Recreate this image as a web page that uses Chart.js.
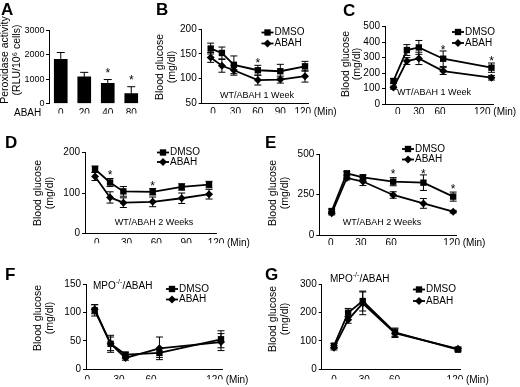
<!DOCTYPE html>
<html><head><meta charset="utf-8">
<script src="https://cdn.jsdelivr.net/npm/chart.js@4/dist/chart.umd.min.js"></script>
<style>
html,body{margin:0;padding:0;background:#fff;}
#wrap{position:relative;width:520px;height:387px;overflow:hidden;background:#fff;}
canvas{position:absolute;left:0;top:0;}
</style></head><body>
<div id="wrap">
<canvas id="cA" width="520" height="387"></canvas>
<canvas id="cB" width="520" height="387"></canvas>
<canvas id="cC" width="520" height="387"></canvas>
<canvas id="cD" width="520" height="387"></canvas>
<canvas id="cE" width="520" height="387"></canvas>
<canvas id="cF" width="520" height="387"></canvas>
<canvas id="cG" width="520" height="387"></canvas>
</div>
<script>
// ---------------- DATA ----------------
// Panel A: peroxidase activity vs ABAH dose
const aCategories = ['0', '20', '40', '80'];
const aValues = [1820, 1095, 825, 405];
const aErrors = [275, 185, 160, 285];
const aStars = [null, null, 1390, 1095];
const aYTicks = [0, 1000, 2000, 3000];

// Panel B: WT/ABAH 1 Week (insulin tolerance)
const bTime = [-3, 12, 28, 60, 90, 123];
const bDmso = [161, 152, 128, 117, 115, 125];
const bDmsoErr = [11, 12, 18, 10, 14, 10];
const bAbah = [143, 126, 117, 97, 98, 105];
const bAbahErr = [10, 13, 10, 10, 7, 12];
const bStars = [null, null, null, 138, null, null];
const bXTicks = [0, 30, 60, 90, 120];
const bYTicks = [50, 100, 150, 200];

// Panel C: WT/ABAH 1 Week (glucose tolerance)
const cTime = [-6, 13, 30, 64.5, 133];
const cDmso = [149, 349, 366, 293, 235];
const cDmsoErr = [15, 35, 45, 50, 30];
const cAbah = [106, 278, 295, 213, 170];
const cAbahErr = [10, 22, 40, 22, 15];
const cStars = [null, null, null, 370, 295];
const cXTicks = [0, 30, 60, 120];
const cYTicks = [0, 100, 200, 300, 400, 500];

// Panel D: WT/ABAH 2 Weeks (insulin tolerance)
const dTime = [-1.7, 13.4, 26.8, 56.3, 85.5, 113];
const dDmso = [159, 126, 104, 103, 115, 121];
const dDmsoErr = [8, 10, 12, 8, 8, 8];
const dAbah = [141, 89, 76, 78, 87, 97];
const dAbahErr = [10, 14, 12, 12, 13, 12];
const dStars = [null, 151, null, 126, null, null];
const dXTicks = [0, 30, 60, 90, 120];
const dYTicks = [0, 100, 200];

// Panel E: WT/ABAH 2 Weeks (glucose tolerance)
const eTime = [1, 16, 32, 62, 92, 121.5];
const eDmso = [148, 381, 356, 329, 323, 237];
const eDmsoErr = [12, 10, 15, 25, 48, 28];
const eAbah = [134, 352, 330, 247, 195, 144];
const eAbahErr = [10, 12, 25, 20, 30, 8];
const eStars = [null, null, null, 397, 397, 304];
const eXTicks = [0, 30, 60, 120];
const eYTicks = [0, 250, 500];

// Panel F: MPO-/-/ABAH (insulin tolerance)
const fTime = [7, 22, 36, 68, 126];
const fDmso = [104, 45, 26, 29, 53];
const fDmsoErr = [10, 15, 4, 8, 15];
const fAbah = [106, 45, 20, 37, 48];
const fAbahErr = [8, 12, 4, 20, 15];
const fXTicks = [0, 30, 60, 120];
const fYTicks = [0, 50, 100, 150];

// Panel G: MPO-/-/ABAH (glucose tolerance)
const gTime = [0, 14, 28.5, 60.5, 123];
const gDmso = [83, 199, 240, 130, 69];
const gDmsoErr = [8, 15, 35, 15, 5];
const gAbah = [76, 174, 232, 127, 72];
const gAbahErr = [8, 12, 40, 15, 6];
const gXTicks = [0, 30, 60, 120];
const gYTicks = [0, 100, 200, 300];

const seriesNames = ['DMSO', 'ABAH'];

// ---------------- DRAWING ----------------
const FF = '"Liberation Sans", Arial, Helvetica, sans-serif';
const INK = '#000';
const plain = v => String(v);

function drawMarker(ctx, style, x, y, r) {
  ctx.beginPath();
  if (style === 'rect') {
    const s = r * Math.SQRT1_2;
    ctx.rect(x - s, y - s, 2 * s, 2 * s);
  } else {
    ctx.moveTo(x - r, y); ctx.lineTo(x, y - r); ctx.lineTo(x + r, y); ctx.lineTo(x, y + r);
    ctx.closePath();
  }
  ctx.fill();
}

function yOf(v) { return (v !== null && typeof v === 'object') ? v.y : v; }

const deco = {
  id: 'deco',
  beforeDatasetsDraw(chart) {
    const ctx = chart.ctx, ys = chart.scales.y;
    ctx.save();
    ctx.strokeStyle = INK; ctx.lineWidth = 1;
    chart.data.datasets.forEach((ds, i) => {
      if (!ds.err) return;
      const meta = chart.getDatasetMeta(i);
      meta.data.forEach((el, j) => {
        const v = yOf(ds.data[j]), e = ds.err[j];
        if (v === null || e === null) return;
        const top = ys.getPixelForValue(v + e);
        const bot = ds.upOnly ? ys.getPixelForValue(v) : ys.getPixelForValue(v - e);
        const cw = ds.capW || 3.5;
        ctx.beginPath();
        ctx.moveTo(el.x, top); ctx.lineTo(el.x, bot);
        ctx.moveTo(el.x - cw, top); ctx.lineTo(el.x + cw, top);
        if (!ds.upOnly) { ctx.moveTo(el.x - cw, bot); ctx.lineTo(el.x + cw, bot); }
        ctx.stroke();
      });
    });
    ctx.restore();
  },
  afterDatasetsDraw(chart) {
    const ctx = chart.ctx, ys = chart.scales.y, xs = chart.scales.x;
    const o = chart.options.plugins.deco || {};
    ctx.save();
    ctx.fillStyle = INK; ctx.strokeStyle = INK;
    // significance stars
    chart.data.datasets.forEach((ds, i) => {
      if (!ds.stars) return;
      const meta = chart.getDatasetMeta(i);
      ds.stars.forEach((s, j) => {
        if (s === null) return;
        ctx.font = '12px ' + FF; ctx.textAlign = 'center'; ctx.textBaseline = 'alphabetic';
        ctx.fillText('*', meta.data[j].x, ys.getPixelForValue(s) + 7);
      });
    });
    // legend
    (o.legend || []).forEach(L => {
      ctx.lineWidth = 1.8;
      ctx.beginPath(); ctx.moveTo(L.x - 6, L.y); ctx.lineTo(L.x + 6, L.y); ctx.stroke();
      drawMarker(ctx, L.style, L.x, L.y, L.style === 'rect' ? 4.5 : 4);
      ctx.font = '10px ' + FF; ctx.textAlign = 'left'; ctx.textBaseline = 'middle';
      ctx.fillText(L.label, L.x + 7, L.y);
    });
    // "(Min)" after the last x tick
    if (o.minLabel) {
      ctx.font = '10px ' + FF; ctx.textAlign = 'left'; ctx.textBaseline = 'middle';
      ctx.fillText('(Min)', xs.getPixelForValue(120) + 11, o.minLabel);
    }
    // free texts
    (o.texts || []).forEach(T => {
      ctx.save();
      ctx.font = (T.bold ? 'bold ' : '') + (T.size || 10) + 'px ' + FF;
      ctx.textAlign = T.align || 'center';
      ctx.textBaseline = T.base || 'middle';
      ctx.translate(T.x, T.y);
      if (T.rot) ctx.rotate(-Math.PI / 2);
      if (T.parts) {
        let x = 0;
        T.parts.forEach(p => {
          ctx.font = (p.sup ? 7 : (T.size || 10)) + 'px ' + FF;
          ctx.textAlign = 'left';
          ctx.fillText(p.t, x, p.sup ? -4 : 0);
          x += ctx.measureText(p.t).width;
        });
      } else {
        ctx.fillText(T.t, 0, 0);
      }
      ctx.restore();
    });
    ctx.restore();
  }
};

function yTitle(x1, x2, y) {
  return [
    { t: 'Blood glucose', x: x1, y: y, rot: true, size: 10.5 },
    { t: '(mg/dl)', x: x2, y: y, rot: true, size: 10.5 }
  ];
}

function linePanel(id, p) {
  const pts = (t, v) => t.map((x, i) => ({ x: x, y: v[i] }));
  const YW = 40, XH = 10;
  const common = { borderColor: INK, backgroundColor: INK, pointBackgroundColor: INK, pointBorderColor: INK,
    borderWidth: 1.8, pointBorderWidth: 0, clip: false, tension: 0 };
  new Chart(document.getElementById(id), {
    type: 'line',
    data: {
      datasets: [
        Object.assign({ label: seriesNames[0], data: pts(p.time, p.dmso), err: p.dmsoErr, stars: p.stars,
          pointStyle: 'rect', pointRadius: 4.5 }, common),
        Object.assign({ label: seriesNames[1], data: pts(p.time, p.abah), err: p.abahErr,
          pointStyle: 'rectRot', pointRadius: 4 }, common)
      ]
    },
    options: {
      responsive: false, animation: false, devicePixelRatio: 1, events: [],
      layout: { padding: { left: p.area.l - YW, right: 520 - p.area.r, top: p.area.t, bottom: 387 - p.area.b - XH } },
      plugins: { legend: { display: false }, tooltip: { enabled: false },
        deco: { legend: p.legend, texts: p.texts, minLabel: p.labelY } },
      scales: {
        x: {
          type: 'linear', min: p.xmin, max: p.xmax,
          afterBuildTicks: s => { s.ticks = p.xTicks.map(v => ({ value: v })); },
          afterFit: s => { s.height = XH; },
          grid: { display: false, drawTicks: false },
          border: { display: true, color: INK, width: 1 },
          ticks: { color: INK, font: { family: FF, size: 10 }, padding: p.labelY - p.area.b - 6,
            maxRotation: 0, autoSkip: false, callback: plain }
        },
        y: {
          min: p.ymin, max: p.ymax,
          afterBuildTicks: s => { s.ticks = p.yTicks.map(v => ({ value: v })); },
          afterFit: s => { s.width = YW; },
          grid: { display: true, drawOnChartArea: false, drawTicks: true, tickLength: 3, color: INK, lineWidth: 1 },
          border: { display: true, color: INK, width: 1 },
          ticks: { color: INK, font: { family: FF, size: 10 }, padding: 2, callback: plain }
        }
      }
    },
    plugins: [deco]
  });
}

// Panel A (bar chart)
new Chart(document.getElementById('cA'), {
  type: 'bar',
  data: { labels: aCategories, datasets: [{ data: aValues, err: aErrors, upOnly: true, stars: aStars,
    backgroundColor: INK, borderWidth: 0, barThickness: 13, capW: 4 }] },
  options: {
    responsive: false, animation: false, devicePixelRatio: 1, events: [],
    layout: { padding: { left: 49 - 40, right: 520 - 143, top: 30.5, bottom: 387 - 103.5 - 10 } },
    plugins: { legend: { display: false }, tooltip: { enabled: false },
      deco: { texts: [
        { t: 'A', x: 1, y: 15, bold: true, size: 17, align: 'left', base: 'alphabetic' },
        { t: 'Peroxidase activity', x: 5.5, y: 60, rot: true, size: 10.5 },
        { t: '(RLU/10\u2076 cells)', x: 17.5, y: 60, rot: true, size: 10.5 },
        { t: 'ABAH', x: 14, y: 113, align: 'left', size: 10 }
      ] } },
    scales: {
      x: { type: 'category', offset: true, afterFit: s => { s.height = 10; },
        grid: { display: false, drawTicks: false }, border: { display: false },
        ticks: { color: INK, font: { family: FF, size: 10 }, padding: 113 - 103.5 - 6 } },
      y: { min: 0, max: 3000,
        afterBuildTicks: s => { s.ticks = aYTicks.map(v => ({ value: v })); },
        afterFit: s => { s.width = 40; },
        grid: { display: true, drawOnChartArea: false, drawTicks: true, tickLength: 3, color: INK },
        border: { display: true, color: INK, width: 1 },
        ticks: { color: INK, font: { family: FF, size: 9 }, padding: 1.5, callback: plain } }
    }
  },
  plugins: [deco]
});

const MPO = [{ t: 'MPO' }, { t: '-/-', sup: true }, { t: '/ABAH' }];

linePanel('cB', { time: bTime, dmso: bDmso, dmsoErr: bDmsoErr, abah: bAbah, abahErr: bAbahErr, stars: bStars,
  xTicks: bXTicks, yTicks: bYTicks, xmin: -15, xmax: 127, ymin: 50, ymax: 200,
  area: { l: 201.7, r: 308, t: 29.3, b: 103.3 }, labelY: 112,
  legend: [{ x: 267.5, y: 32.5, label: 'DMSO', style: 'rect' }, { x: 267.5, y: 43.5, label: 'ABAH', style: 'rectRot' }],
  texts: [{ t: 'B', x: 156, y: 15, bold: true, size: 17, align: 'left', base: 'alphabetic' },
    { t: 'WT/ABAH 1 Week', x: 257, y: 96, size: 9 }].concat(yTitle(160, 172, 67)) });

linePanel('cC', { time: cTime, dmso: cDmso, dmsoErr: cDmsoErr, abah: cAbah, abahErr: cAbahErr, stars: cStars,
  xTicks: cXTicks, yTicks: cYTicks, xmin: -18, xmax: 135.6, ymin: 0, ymax: 500,
  area: { l: 385, r: 493.3, t: 26.7, b: 104 }, labelY: 112,
  legend: [{ x: 458, y: 32, label: 'DMSO', style: 'rect' }, { x: 458, y: 43, label: 'ABAH', style: 'rectRot' }],
  texts: [{ t: 'C', x: 343, y: 16, bold: true, size: 17, align: 'left', base: 'alphabetic' },
    { t: 'WT/ABAH 1 Week', x: 434, y: 93, size: 9 }].concat(yTitle(346, 357, 64)) });

linePanel('cD', { time: dTime, dmso: dDmso, dmsoErr: dDmsoErr, abah: dAbah, abahErr: dAbahErr, stars: dStars,
  xTicks: dXTicks, yTicks: dYTicks, xmin: -11.8, xmax: 120.5, ymin: 0, ymax: 200,
  area: { l: 85, r: 216.5, t: 152.7, b: 233.3 }, labelY: 243,
  legend: [{ x: 163, y: 152.5, label: 'DMSO', style: 'rect' }, { x: 163, y: 162, label: 'ABAH', style: 'rectRot' }],
  texts: [{ t: 'D', x: 5, y: 148, bold: true, size: 17, align: 'left', base: 'alphabetic' },
    { t: 'WT/ABAH 2 Weeks', x: 154, y: 223, size: 9 }].concat(yTitle(38, 50, 193)) });

linePanel('cE', { time: eTime, dmso: eDmso, dmsoErr: eDmsoErr, abah: eAbah, abahErr: eAbahErr, stars: eStars,
  xTicks: eXTicks, yTicks: eYTicks, xmin: -11.3, xmax: 125, ymin: 0, ymax: 500,
  area: { l: 319.3, r: 456.7, t: 154, b: 235 }, labelY: 243,
  legend: [{ x: 408, y: 149, label: 'DMSO', style: 'rect' }, { x: 408, y: 159.5, label: 'ABAH', style: 'rectRot' }],
  texts: [{ t: 'E', x: 265, y: 148, bold: true, size: 17, align: 'left', base: 'alphabetic' },
    { t: 'WT/ABAH 2 Weeks', x: 382, y: 223, size: 9 }].concat(yTitle(273, 285, 193)) });

linePanel('cF', { time: fTime, dmso: fDmso, dmsoErr: fDmsoErr, abah: fAbah, abahErr: fAbahErr, stars: null,
  xTicks: fXTicks, yTicks: fYTicks, xmin: -1.2, xmax: 127.6, ymin: 0, ymax: 150,
  area: { l: 86, r: 222.7, t: 284.3, b: 369.3 }, labelY: 380,
  legend: [{ x: 172, y: 289, label: 'DMSO', style: 'rect' }, { x: 172, y: 299.5, label: 'ABAH', style: 'rectRot' }],
  texts: [{ t: 'F', x: 5, y: 280, bold: true, size: 17, align: 'left', base: 'alphabetic' },
    { parts: MPO, x: 93, y: 286, size: 10, align: 'left' }].concat(yTitle(38, 50, 318)) });

linePanel('cG', { time: gTime, dmso: gDmso, dmsoErr: gDmsoErr, abah: gAbah, abahErr: gAbahErr, stars: null,
  xTicks: gXTicks, yTicks: gYTicks, xmin: -12.2, xmax: 125, ymin: 0, ymax: 300,
  area: { l: 321.7, r: 460, t: 284, b: 369.3 }, labelY: 380,
  legend: [{ x: 419, y: 289.5, label: 'DMSO', style: 'rect' }, { x: 419, y: 301, label: 'ABAH', style: 'rectRot' }],
  texts: [{ t: 'G', x: 265, y: 280, bold: true, size: 17, align: 'left', base: 'alphabetic' },
    { parts: MPO, x: 330, y: 279, size: 10, align: 'left' }].concat(yTitle(273, 285, 319)) });
</script>
</body></html>
